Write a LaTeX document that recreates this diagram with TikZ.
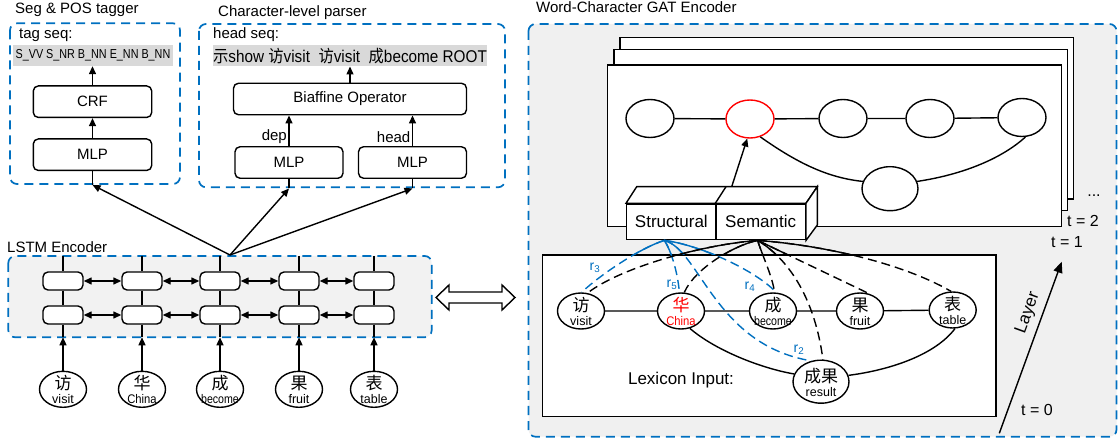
\documentclass[tikz,border=0pt]{standalone}
\usepackage{fontspec}
\setmainfont{Liberation Sans}
\newfontfamily\cjk{Noto Sans CJK SC}
\usetikzlibrary{arrows.meta,shapes.geometric,calc}
\definecolor{myblue}{RGB}{0,112,192}
\definecolor{panel}{RGB}{240,240,240}
\definecolor{lpanel}{RGB}{242,242,242}
\definecolor{bandgray}{RGB}{217,217,217}
\newcommand\fs[1]{\fontsize{#1}{#1}\selectfont}
\tikzset{
 lw/.style={line width=1.4pt},
 dbox/.style={draw=myblue, line width=1.7pt, dash pattern=on 9pt off 6pt, rounded corners=7pt},
 rbox/.style={draw, lw, rounded corners=5pt, minimum height=31.5pt, inner sep=0pt, font=\fs{15}},
 cellbox/.style={draw, lw, fill=white, rounded corners=5pt, minimum width=40pt, minimum height=18pt, inner sep=0pt},
 ell/.style={draw, ellipse, lw, fill=white, minimum width=47pt, minimum height=36pt, inner sep=0pt},
 gell/.style={draw, ellipse, lw, fill=white, minimum width=48pt, minimum height=38pt, inner sep=0pt},
 arr/.style={lw, -{Triangle[length=8pt,width=7pt]}},
 darr/.style={lw, {Triangle[length=8pt,width=7pt]}-{Triangle[length=8pt,width=7pt]}},
 ttl/.style={anchor=west, font=\fs{15}, inner sep=0pt},
 bandbox/.style={fill=bandgray, inner sep=0pt, minimum height=21pt},
 kdash/.style={lw, dash pattern=on 9pt off 5pt},
 bdash/.style={lw, draw=myblue, dash pattern=on 9pt off 5pt},
 ksolid/.style={lw},
 bsolid/.style={lw, draw=myblue},
 lay/.style={draw, lw, fill=white},
 cubeface/.style={draw, lw, fill=white, minimum width=89.3pt, minimum height=35.7pt, anchor=north west, font=\fs{17}, inner sep=0pt},
 tlab/.style={font=\fs{16}, inner sep=0pt},
 rlab/.style={text=myblue, font=\fs{14}, inner sep=0pt},
}
% #1 style, #2 name, #3 position, #4 chinese, #5 english, #6 colour
\newcommand\ellnode[6]{%
 \node[#1] (#2) at #3 {};
 \node[font=\cjk\fs{17}, text=#6, inner sep=0pt] (#2z) at ($(#2)+(0,-6)$) {#4};
 \node[font=\fs{12.5}, text=#6, inner sep=0pt] (#2e) at ($(#2)+(0,10)$) {#5};
}
\newcommand\semlinks[1]{%
 \draw[#1] (sA) .. controls (700,245) and (620,268) .. (l1.70);
 \draw[#1] (sA) .. controls (735,245) and (695,268) .. (l2.80);
 \draw[#1] (sA) .. controls (762,255) and (772,275) .. (l3.85);
 \draw[#1] (sA) .. controls (790,260) and (815,300) .. (l6.85);
 \draw[#1] (sA) -- (l4.62);
 \draw[#1] (sA) .. controls (820,245) and (900,262) .. (l5.95);
}
\newcommand\strlinks[1]{%
 \draw[#1] (tA) .. controls (640,248) and (600,275) .. (l1.88);
 \draw[#1] (tA) .. controls (672,252) and (678,275) .. (l2.95);
 \draw[#1] (tA) .. controls (700,245) and (755,270) .. (l3.80);
 \draw[#1] (tA) .. controls (700,250) and (715,345) .. (l6.115);
}
\begin{document}
\begin{tikzpicture}[x=1pt,y=-1pt]
\useasboundingbox (0,0) rectangle (1119,443);

% ---------- Seg & POS tagger ----------
\draw[dbox] (10,23.3) rectangle (180,184);
\node[ttl] (t1) at (15,10) {Seg \& POS tagger};
\node[ttl] (ts) at (19,35) {tag seq:};
\node[bandbox, minimum width=159.4pt] (band1) at (93,55.5) {\scalebox{0.83}[1]{\fs{13}S\_VV S\_NR B\_NN E\_NN B\_NN}};
\node[rbox, minimum width=118.4pt] (crf) at (92.5,101.7) {CRF};
\node[rbox, minimum width=118.4pt] (mlp1) at (92.5,154.7) {MLP};
\draw[arr] (crf.north) -- (crf.north |- band1.south);
\draw[arr] (mlp1.north) -- (crf.south);

% ---------- Character-level parser ----------
\draw[dbox] (199,24) rectangle (505,187.3);
\node[ttl] (t2) at (218,13) {Character-level parser};
\node[ttl] (hs) at (213,35) {head seq:};
\node[bandbox, minimum width=274pt] (band2) at (350,55.8) {\scalebox{0.9}[1]{\fs{17}{\cjk 示}show {\cjk 访}visit\ \ {\cjk 访}visit\ \ {\cjk 成}become ROOT}};
\node[rbox, minimum width=233pt] (bia) at (350,99) {Biaffine Operator};
\node[rbox, minimum width=108pt] (mlpL) at (289,162.5) {MLP};
\node[rbox, minimum width=108pt] (mlpR) at (412.5,162.5) {MLP};
\draw[arr] (bia.north) -- (bia.north |- band2.south);
\draw[arr] (mlpL.north) -- (mlpL.north |- bia.south) node[pos=0.3, left, font=\fs{15}, inner sep=1.5pt] (dep) {dep};
\draw[arr] (mlpR.north) -- (mlpR.north |- bia.south) node[pos=0.3, left, font=\fs{15}, inner sep=1.5pt] (head) {head};

% ---------- LSTM encoder ----------
\draw[dbox, fill=lpanel] (8.3,256) rectangle (431.7,337.3);
\node[ttl] (t3) at (7,247) {LSTM Encoder};
\foreach \i/\x in {1/63,2/142,3/220,4/299,5/374} {
  \node[cellbox] (u\i) at (\x,281) {};
  \node[cellbox] (d\i) at (\x,315) {};
  \coordinate (top\i) at (\x,256);
  \coordinate (bot\i) at (\x,337.3);
  \draw[lw] (top\i) -- (u\i.north) (u\i.south) -- (d\i.north) (d\i.south) -- (bot\i);
}
\foreach \i/\j in {1/2,2/3,3/4,4/5} {
  \draw[darr] (u\i.east) -- (u\j.west);
  \draw[darr] (d\i.east) -- (d\j.west);
}
\ellnode{ell}{i1}{(63,389.3)}{访}{visit}{black}
\ellnode{ell}{i2}{(142,389.3)}{华}{\scalebox{0.9}[1]{China}}{black}
\ellnode{ell}{i3}{(220,389.3)}{成}{\scalebox{0.85}[1]{become}}{black}
\ellnode{ell}{i4}{(299,389.3)}{果}{fruit}{black}
\ellnode{ell}{i5}{(374,389.3)}{表}{table}{black}
\foreach \i in {1,...,5} { \draw[arr] (i\i.north) -- (bot\i); }

% junction to the two task heads
\coordinate (jn) at (230,255);
\coordinate (c1) at (92.5,185);
\coordinate (c2) at (289,188.5);
\coordinate (c3) at (412.5,188.5);
\draw[lw] (mlp1.south) -- (c1);
\draw[lw] (mlpL.south) -- (c2);
\draw[lw] (mlpR.south) -- (c3);
\draw[arr] (jn) -- (c1);
\draw[arr] (jn) -- (c2);
\draw[arr] (jn) -- (c3);

% big hollow double arrow
\draw[lw, fill=white] (436,297.5) -- (449,285) -- (449,292) -- (502,292) -- (502,285) -- (515,297.5) -- (502,310) -- (502,303) -- (449,303) -- (449,310) -- cycle;

% ---------- Word-Character GAT encoder ----------
\draw[dbox, fill=panel] (528.5,24) rectangle (1116.5,436.7);
\node[ttl] (t4) at (536,7) {Word-Character GAT Encoder};

\draw[lay] (620,37.7) rectangle (1073.3,199);
\draw[lay] (614,49.3) rectangle (1067.3,210.7);
\draw[lay] (607.7,65) rectangle (1061.7,226.7);
\node[tlab] (dots) at (1094,196) {...};
\node[tlab] (tt2) at (1083,221) {t = 2};
\node[tlab] (tt1) at (1067,242) {t = 1};
\node[tlab] (tt0) at (1037,410) {t = 0};

\node[gell] (g1) at (650,118.5) {};
\node[gell, draw=red] (g2) at (750,119) {};
\node[gell] (g3) at (843,118.5) {};
\node[gell] (g4) at (930,118.5) {};
\node[gell] (g5) at (1022,117.5) {};
\node[gell, minimum width=56pt, minimum height=44pt] (g6) at (890,188.7) {};
\draw[lw] (g1) -- (g2) (g2) -- (g3) (g3) -- (g4) (g4) -- (g5);
\draw[lw] (g2.-60) .. controls (800,165) and (830,178) .. (g6.165);
\draw[lw] (g6.15) .. controls (960,175) and (1000,160) .. (g5.-80);

% cube
\node[cubeface] (str) at (626,203.3) {Structural};
\node[cubeface] (sem) at (715.3,203.3) {Semantic};
\draw[lw, fill=white] (str.north west) -- ++(10.7,-16.6) -- ($(sem.north east)+(11.3,-16.6)$) -- (sem.north east) -- cycle;
\draw[lw] (sem.north west) -- ++(10.7,-16.6);
\draw[lw, fill=white] (sem.north east) -- ++(11.3,-16.6) -- ++(0,38.3) -- (sem.south east) -- cycle;
\coordinate (cubetop) at ($(sem.north west)+(16.4,-16.6)$);
\draw[arr] (cubetop) -- (g2.262);

% lexicon input
\draw[lay] (542.7,255) rectangle (996,416.7);
\ellnode{ell}{l1}{(581,311)}{访}{visit}{black}
\ellnode{ell}{l2}{(681,311)}{华}{\scalebox{0.9}[1]{China}}{red}
\ellnode{ell}{l3}{(773,311)}{成}{\scalebox{0.85}[1]{become}}{black}
\ellnode{ell}{l4}{(860,311)}{果}{fruit}{black}
\ellnode{ell}{l5}{(952.7,310)}{表}{table}{black}
\ellnode{ell, minimum width=56pt, minimum height=43pt}{l6}{(821,381.7)}{成果}{result}{black}
\draw[lw] (l1) -- (l2) (l2) -- (l3) (l3) -- (l4) (l4) -- (l5);
\draw[lw] (l2.-63) .. controls (715,350) and (760,368) .. (l6.164);
\draw[lw] (l6.13) .. controls (890,370) and (935,355) .. (l5.-83);
\node[font=\fs{17}, inner sep=0pt] (lex) at (681,380) {Lexicon Input:};

\coordinate (tA) at ($(str.south)+(-7,0)$);
\coordinate (sA) at ($(sem.south)+(-3,0)$);
\strlinks{bdash}
\semlinks{kdash}
\begin{scope}
  \clip (600,228) rectangle (1000,255);
  \strlinks{bsolid}
  \semlinks{ksolid}
\end{scope}
\node[rlab] (r3) at (595,268) {r\textsubscript{3}};
\node[rlab] (r5) at (672,285) {r\textsubscript{5}};
\node[rlab] (r4) at (750,287) {r\textsubscript{4}};
\node[rlab] (r2) at (799,350) {r\textsubscript{2}};

% layer axis
\coordinate (L0) at (999.3,433.3);
\coordinate (L1) at (1061.7,261.7);
\draw[lw, -{Triangle[length=11pt,width=9pt]}] (L0) -- (L1);
\node[rotate=70, font=\fs{17}, inner sep=0pt] (layer) at (1028,313) {Layer};
\end{tikzpicture}
\end{document}
